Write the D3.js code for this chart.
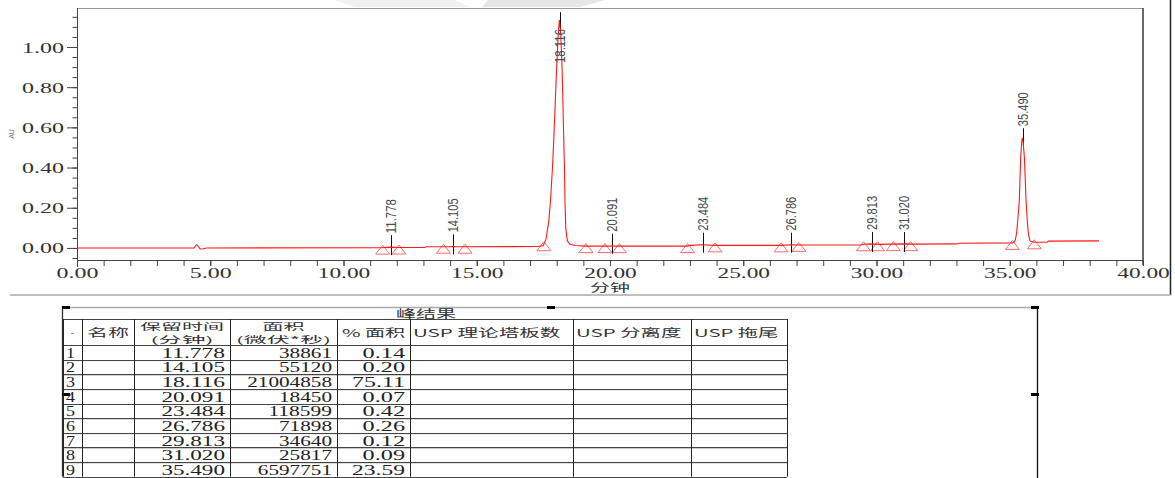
<!DOCTYPE html>
<html>
<head>
<meta charset="utf-8">
<script src="https://cdn.jsdelivr.net/npm/d3@7"></script>
<style>
  body { margin: 0; background: #fff; }
  svg { display: block; }
</style>
</head>
<body>
<div id="chart"></div>
<script>
// detector trace (minutes, AU)
const traceTime = [0, 4.40, 4.45, 4.50, 4.56, 4.62, 4.75, 4.85, 11.40, 11.78, 12.10, 13.05, 13.10, 14.00, 14.10, 14.20,
  17.30, 17.50, 17.60, 17.70, 17.77, 17.85, 17.90, 17.95, 18.00, 18.05, 18.10, 18.15, 18.20, 18.23, 18.26, 18.29,
  18.31, 18.34, 18.40, 18.50, 18.70, 19.10, 20.00, 20.09, 20.20, 22.90, 23.00, 23.48, 23.90, 26.40, 26.79, 27.10,
  29.40, 29.50, 29.81, 30.10, 31.02, 31.30, 33.00, 33.10, 35.10, 35.20, 35.26, 35.32, 35.36, 35.41, 35.45, 35.47,
  35.50, 35.55, 35.61, 35.66, 35.70, 35.76, 35.90, 36.40, 36.45, 38.35];
const traceAU = [0, 0, 0.012, 0.016, 0.006, -0.005, -0.004, 0, 0.001, 0.004, 0.002, 0.002, 0.006, 0.006, 0.008, 0.006,
  0.007, 0.012, 0.045, 0.13, 0.24, 0.42, 0.57, 0.74, 0.90, 1.05, 1.134, 1.07, 0.90, 0.74, 0.57, 0.40,
  0.24, 0.10, 0.035, 0.018, 0.012, 0.009, 0.009, 0.011, 0.009, 0.009, 0.013, 0.016, 0.013, 0.013, 0.016, 0.015,
  0.015, 0.018, 0.020, 0.018, 0.020, 0.019, 0.020, 0.023, 0.025, 0.035, 0.075, 0.17, 0.24, 0.45, 0.53, 0.548,
  0.53, 0.45, 0.24, 0.13, 0.07, 0.035, 0.028, 0.028, 0.034, 0.035];

// peak table
const peakRT = [11.778, 14.105, 18.116, 20.091, 23.484, 26.786, 29.813, 31.020, 35.490];
const peakArea = [38861, 55120, 21004858, 18450, 118599, 71898, 34640, 25817, 6597751];
const peakPctArea = [0.14, 0.20, 75.11, 0.07, 0.42, 0.26, 0.12, 0.09, 23.59];
const peakStart = [11.47, 13.75, 17.52, 19.81, 22.91, 26.42, 29.51, 30.63, 35.10];
const peakEnd = [12.08, 14.56, 19.10, 20.35, 23.94, 27.09, 30.04, 31.28, 35.92];

const xTickValues = [0, 5, 10, 15, 20, 25, 30, 35, 40];
const yTickValues = [0, 0.2, 0.4, 0.6, 0.8, 1.0];
const xLabel = "分钟";
const yLabel = "AU";
const tableTitle = "峰结果";
const tableHeaders = [["-"], ["名称"], ["保留时间", "(分钟)"], ["面积", "(微伏*秒)"], ["% 面积"],
  ["USP 理论塔板数"], ["USP 分离度"], ["USP 拖尾"]];

const W = 1175, H = 478;
const plot = { left: 77, right: 1143, top: 8, bottom: 260 };
const serif = "'Liberation Serif', 'DejaVu Serif', serif";
const cjk = "'Noto Sans CJK SC', 'Noto Sans', sans-serif";

// rough width of the stretched text in the picture
const textW = (s, wide = 21, narrow = 10.5) =>
  Array.from(s).reduce((a, c) => a + (c.charCodeAt(0) > 255 ? wide : narrow), 0);

const svg = d3.select("#chart").append("svg")
  .attr("width", W).attr("height", H)
  .style("background-color", "#fff");

// faint watermark at the top
svg.append("polygon").attr("points", "335,0 455,0 470,7 355,7").attr("fill", "#f1f1f1");
svg.append("polygon").attr("points", "488,0 605,0 580,7 482,7").attr("fill", "#e7e7e7");

const x = d3.scaleLinear().domain([0, 40]).range([plot.left, plot.right]);
const y = d3.scaleLinear().domain([-0.06, 1.194]).range([plot.bottom, plot.top]);

// frame around the chart
svg.append("line").attr("x1", plot.left).attr("x2", plot.right).attr("y1", plot.top + 0.5).attr("y2", plot.top + 0.5)
  .attr("stroke", "#999");
svg.append("line").attr("x1", plot.right).attr("x2", plot.right).attr("y1", plot.top).attr("y2", plot.bottom + 5)
  .attr("stroke", "#444").attr("stroke-width", 1.6);
svg.append("line").attr("x1", 1170.5).attr("x2", 1170.5).attr("y1", 0).attr("y2", 295)
  .attr("stroke", "#222").attr("stroke-width", 1.5);
svg.append("line").attr("x1", 10).attr("x2", 1171).attr("y1", 295).attr("y2", 295)
  .attr("stroke", "#aaa").attr("stroke-width", 1.5);

// y axis
const yMinor = svg.append("g").attr("transform", `translate(${plot.left},0)`)
  .call(d3.axisLeft(y).tickValues(d3.range(-0.05, 1.16, 0.05)).tickSize(4.5).tickFormat(""));
const yMajor = svg.append("g").attr("transform", `translate(${plot.left},0)`)
  .call(d3.axisLeft(y).tickValues(yTickValues).tickSize(10).tickPadding(3).tickFormat(d3.format(".2f")));
[yMinor, yMajor].forEach(g => {
  g.select(".domain").remove();
  g.selectAll("line").attr("stroke", "#444");
});
yMajor.selectAll("text")
  .attr("font-family", serif).attr("font-size", 14).attr("fill", "#333")
  .attr("dy", "0.36em")
  .each(function () {
    d3.select(this).attr("textLength", textW(this.textContent)).attr("lengthAdjust", "spacingAndGlyphs");
  });
svg.append("line").attr("x1", plot.left + 0.5).attr("x2", plot.left + 0.5).attr("y1", plot.top).attr("y2", plot.bottom + 7)
  .attr("stroke", "#444");

// x axis
const xMinor = svg.append("g").attr("transform", `translate(0,${plot.bottom})`)
  .call(d3.axisBottom(x).tickValues(d3.range(0, 41, 1)).tickSize(6).tickFormat(""));
const xMajor = svg.append("g").attr("transform", `translate(0,${plot.bottom})`)
  .call(d3.axisBottom(x).tickValues(xTickValues).tickSize(6).tickPadding(2).tickFormat(d3.format(".2f")));
[xMinor, xMajor].forEach(g => {
  g.select(".domain").remove();
  g.selectAll("line").attr("stroke", "#444");
});
xMajor.selectAll("text")
  .attr("font-family", serif).attr("font-size", 14).attr("fill", "#333")
  .each(function () {
    d3.select(this).attr("textLength", textW(this.textContent)).attr("lengthAdjust", "spacingAndGlyphs");
  });
svg.append("line").attr("x1", plot.left).attr("x2", plot.right).attr("y1", plot.bottom + 0.5).attr("y2", plot.bottom + 0.5)
  .attr("stroke", "#444");

svg.append("text").attr("x", x(20)).attr("y", 292).attr("text-anchor", "middle")
  .attr("font-family", cjk).attr("font-size", 11).attr("fill", "#333")
  .attr("textLength", 40).attr("lengthAdjust", "spacingAndGlyphs").text(xLabel);
svg.append("text").attr("transform", "translate(14,134) rotate(-90)").attr("text-anchor", "middle")
  .attr("font-family", "'Liberation Sans', sans-serif").attr("font-size", 7).attr("fill", "#777").text(yLabel);

// signal value at a given time, from the trace points
const bis = d3.bisector(d => d).left;
function signalAt(t) {
  const i = Math.max(1, Math.min(traceTime.length - 1, bis(traceTime, t)));
  const t0 = traceTime[i - 1], t1 = traceTime[i];
  const k = (t - t0) / (t1 - t0);
  return traceAU[i - 1] + k * (traceAU[i] - traceAU[i - 1]);
}

const chart = svg.append("g");

// integration marks: triangles at the start and end of each peak
const baseMarks = peakStart.concat(peakEnd);
chart.selectAll(".tri")
  .data(baseMarks)
  .join("path")
  .attr("class", "tri")
  .attr("d", t => {
    const cx = x(t), cy = y(signalAt(t));
    return `M${cx - 7},${cy + 6.5}L${cx},${cy - 2.5}L${cx + 7},${cy + 6.5}Z`;
  })
  .attr("fill", "none")
  .attr("stroke", "#ff6a6a")
  .attr("stroke-width", 1);

// peak apex markers
chart.selectAll(".mark")
  .data(peakRT)
  .join("line")
  .attr("class", "mark")
  .attr("x1", d => Math.round(x(d)) + 0.5).attr("x2", d => Math.round(x(d)) + 0.5)
  .attr("y1", d => y(signalAt(d)) - 12)
  .attr("y2", d => y(signalAt(d)) + 8)
  .attr("stroke", "#111");

// trace
const line = d3.line().x((d, i) => x(traceTime[i])).y(d => y(d));
chart.append("path")
  .datum(traceAU)
  .attr("d", line)
  .attr("fill", "none")
  .attr("stroke", "#ff1a1a")
  .attr("stroke-width", 1.1);

// retention time labels, rotated
chart.selectAll(".rt")
  .data(peakRT)
  .join("text")
  .attr("class", "rt")
  .attr("transform", d => {
    let start = y(signalAt(d)) - 14;
    if (start - 34 < plot.top + 2) start = plot.top + 55; // no room above the peak
    return `translate(${Math.round(x(d)) + 5},${start}) rotate(-90)`;
  })
  .attr("font-family", "'Liberation Sans', 'DejaVu Sans', sans-serif")
  .attr("font-size", 14)
  .attr("fill", "#4a4a4a")
  .attr("textLength", 34)
  .attr("lengthAdjust", "spacingAndGlyphs")
  .text(d => d.toFixed(3));

// ---------- peak result table ----------
const tbl = svg.append("g");
const colEdges = [63, 82, 134, 230, 337, 410, 573, 691, 787];
const headTop = 319, headBottom = 345, rowH = 14.63;
const tableBottom = headBottom + rowH * peakRT.length;

tbl.append("line").attr("x1", 62).attr("x2", 1038).attr("y1", 307.5).attr("y2", 307.5)
  .attr("stroke", "#aaa").attr("stroke-width", 1.5);
tbl.append("line").attr("x1", 1037.5).attr("x2", 1037.5).attr("y1", 306).attr("y2", H)
  .attr("stroke", "#111").attr("stroke-width", 1.3);
tbl.append("line").attr("x1", 62.5).attr("x2", 62.5).attr("y1", 306).attr("y2", tableBottom)
  .attr("stroke", "#333").attr("stroke-width", 1.3);
[[62, 306], [547, 306], [1031, 306], [1031, 393], [62, 393]].forEach(([px, py]) =>
  tbl.append("rect").attr("x", px).attr("y", py).attr("width", 8).attr("height", 3).attr("fill", "#000"));

tbl.append("text").attr("x", 426).attr("y", 318).attr("text-anchor", "middle")
  .attr("font-family", cjk).attr("font-size", 11.5).attr("fill", "#333")
  .attr("textLength", 60).attr("lengthAdjust", "spacingAndGlyphs").text(tableTitle);

// grid
const rowLines = d3.range(peakRT.length + 1).map(i => headBottom + i * rowH);
tbl.selectAll(".rowline2")
  .data(rowLines.slice(1))
  .join("line")
  .attr("x1", colEdges[0]).attr("x2", colEdges[colEdges.length - 1])
  .attr("y1", d => d + 1).attr("y2", d => d + 1)
  .attr("stroke", "#c4c4c4");
tbl.selectAll(".rowline")
  .data([headTop].concat(rowLines))
  .join("line")
  .attr("x1", colEdges[0]).attr("x2", colEdges[colEdges.length - 1])
  .attr("y1", d => Math.round(d) + 0.5).attr("y2", d => Math.round(d) + 0.5)
  .attr("stroke", "#444");
tbl.selectAll(".colline")
  .data(colEdges)
  .join("line")
  .attr("x1", d => d + 0.5).attr("x2", d => d + 0.5)
  .attr("y1", headTop).attr("y2", tableBottom)
  .attr("stroke", "#222");

// header
tableHeaders.forEach((lines, c) => {
  const left = colEdges[c], right = colEdges[c + 1];
  const leftAligned = c >= 5;
  const two = lines.length > 1;
  lines.forEach((s, k) => {
    const by = two ? 329.5 + k * 13 : 336.5;
    const t = tbl.append("text")
      .attr("x", leftAligned ? left + 3 : (left + right) / 2)
      .attr("y", by)
      .attr("text-anchor", leftAligned ? "start" : "middle")
      .attr("font-family", cjk).attr("font-size", two ? 9 : 11).attr("fill", c === 0 ? "#3a8c8c" : "#333")
      .text(s);
    if (c > 0) t.attr("textLength", textW(s, 21, 10.6)).attr("lengthAdjust", "spacingAndGlyphs");
  });
});

// body rows
const cells = [
  { col: 0, get: (d, i) => String(i + 1), align: "start" },
  { col: 2, get: (d, i) => peakRT[i].toFixed(3), align: "end" },
  { col: 3, get: (d, i) => String(peakArea[i]), align: "end" },
  { col: 4, get: (d, i) => peakPctArea[i].toFixed(2), align: "end" }
];
cells.forEach(cell => {
  tbl.selectAll(`.c${cell.col}`)
    .data(peakRT)
    .join("text")
    .attr("class", `c${cell.col}`)
    .attr("x", cell.align === "start" ? colEdges[cell.col] + 3 : colEdges[cell.col + 1] - 5)
    .attr("y", (d, i) => headBottom + i * rowH + 12.8)
    .attr("text-anchor", cell.align)
    .attr("font-family", serif).attr("font-size", 14.5).attr("fill", "#222")
    .text(cell.get)
    .each(function () {
      const s = this.textContent;
      d3.select(this).attr("textLength", s.length * (cell.col === 0 ? 9 : 10.6))
        .attr("lengthAdjust", "spacingAndGlyphs");
    });
});
</script>
</body>
</html>
